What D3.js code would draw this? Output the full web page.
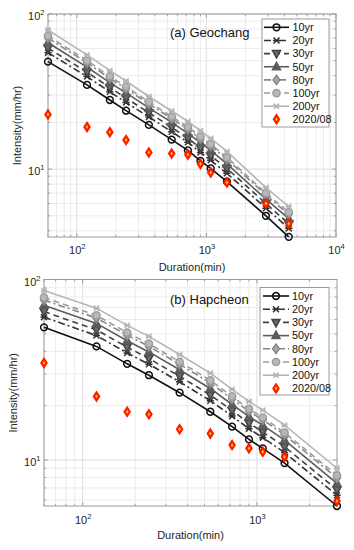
<!DOCTYPE html>
<html><head><meta charset="utf-8">
<script src="https://cdn.jsdelivr.net/npm/d3@7"></script>
<style>body{margin:0;background:#fff;} svg{display:block;font-family:"Liberation Sans",Arial,sans-serif;}</style>
</head><body><svg id="c" width="354" height="550"></svg>
<script>
// ---------------- DATA ----------------
const seriesNames = ["10yr","20yr","30yr","50yr","80yr","100yr","200yr"];
const obsName = "2020/08";

// (a) Geochang
const durationsA = [60,120,180,240,360,540,720,900,1080,1440,2880,4320];
const geochang10  = [49.3,34.9,27.9,23.8,19.3,15.5,13.2,11.3,10.1,8.3,5.0,3.66];
const geochang20  = [56.3,39.5,31.5,26.9,21.7,17.4,14.9,12.8,11.4,9.4,5.6,4.15];
const geochang30  = [60.3,42.2,33.6,28.7,23.1,18.6,15.8,13.7,12.2,10.1,6.0,4.44];
const geochang50  = [65.3,45.5,36.1,31.0,24.8,20.0,17.0,14.8,13.2,10.8,6.4,4.79];
const geochang80  = [69.9,48.5,38.5,33.0,26.3,21.2,18.1,15.7,14.1,11.6,6.8,5.11];
const geochang100 = [72.2,50.1,39.7,34.0,27.1,21.8,18.7,16.2,14.5,11.9,7.0,5.27];
const geochang200 = [78.9,54.5,43.1,37.0,29.4,23.7,20.3,17.7,15.8,13.0,7.6,5.74];
const geochangObs = [22.5,18.7,17.3,15.4,12.8,12.6,12.4,10.8,9.5,8.2,6.0,4.45];

// (b) Hapcheon
const durationsB = [60,120,180,240,360,540,720,900,1080,1440,2880];
const hapcheon10  = [54.3,42.6,34.1,29.5,23.6,18.5,15.3,13.0,11.6,9.62,5.56];
const hapcheon20  = [61.9,48.9,39.2,33.9,27.1,21.3,17.5,14.9,13.3,11.0,6.37];
const hapcheon30  = [66.4,52.6,42.2,36.5,29.1,22.9,18.8,16.0,14.3,11.85,6.84];
const hapcheon50  = [71.9,57.1,45.8,39.7,31.6,24.9,20.3,17.4,15.6,12.9,7.42];
const hapcheon80  = [76.9,61.2,49.1,42.6,33.9,26.7,21.8,18.6,16.7,13.8,7.95];
const hapcheon100 = [79.4,63.3,50.8,44.1,35.0,27.6,22.5,19.2,17.2,14.2,8.21];
const hapcheon200 = [86.8,69.4,55.7,48.4,38.4,30.3,24.6,21.1,18.9,15.6,9.0];
const hapcheonObs = [34.5,22.5,18.5,17.9,14.8,14.0,12.1,11.6,11.1,10.4,5.92];

const xTickValuesA = [100,1000,10000];
const xTickValuesB = [100,1000];
const yTickValues = [10,100];

// ---------------- STYLE ----------------
const styles = [
  {color:"#111111", dash:null,        marker:"circle",  fill:"none",    size:3.4},
  {color:"#333333", dash:"7,3,2,3",   marker:"star",    fill:"none",    size:3.0},
  {color:"#404040", dash:"6,4",       marker:"tridown", fill:"#6a6a6a", size:4.0},
  {color:"#5c5c5c", dash:null,        marker:"triup",   fill:"#5c5c5c", size:4.0},
  {color:"#878787", dash:"7,3,2,3",   marker:"diamond", fill:"#a8a8a8", size:3.6},
  {color:"#9c9c9c", dash:"6,4",       marker:"circle",  fill:"#b8b8b8", size:3.6},
  {color:"#b6b6b6", dash:null,        marker:"star",    fill:"none",    size:2.6}
];

function markerPath(type, s){
  switch(type){
    case "circle": return `M${s},0A${s},${s} 0 1,1 ${-s},0A${s},${s} 0 1,1 ${s},0Z`;
    case "star": return `M${-s},${-s}L${s},${s}M${-s},${s}L${s},${-s}M${-s*1.2},0L${s*1.2},0`;
    case "triup": return `M0,${-s*1.1}L${s},${s*0.75}L${-s},${s*0.75}Z`;
    case "tridown": return `M0,${s*1.1}L${s},${-s*0.75}L${-s},${-s*0.75}Z`;
    case "diamond": return `M0,${-s*1.3}L${s*0.95},0L0,${s*1.3}L${-s*0.95},0Z`;
  }
}
const obsPath = "M0,-4L2.6,0L0,4L-2.6,0Z";

const svg = d3.select("#c");

const charts = [
  {title:"(a) Geochang", x:durationsA, series:[geochang10,geochang20,geochang30,geochang50,geochang80,geochang100,geochang200], obs:geochangObs,
   xDomain:[60,10000], yDomain:[3.65,100], L:48, R:336, T:14, B:237, xTicks:xTickValuesA,
   titleX:170, titleY:32, xTickY:250, xLabelY:267, yLabelX:17,
   leg:{x:262, y:19, w:67, h:108, row0:27.3, step:13.15, lx0:264, lx1:289, tx:292.5}},
  {title:"(b) Hapcheon", x:durationsB, series:[hapcheon10,hapcheon20,hapcheon30,hapcheon50,hapcheon80,hapcheon100,hapcheon200], obs:hapcheonObs,
   xDomain:[60,2880], yDomain:[5.56,100], L:44, R:337, T:279.5, B:506, xTicks:xTickValuesB,
   titleX:170, titleY:299, xTickY:520, xLabelY:535, yLabelX:13,
   leg:{x:260, y:287.5, w:69, h:107.5, row0:296, step:13.2, lx0:263, lx1:289, tx:292}}
];

function minorVals(lo, hi){
  const out=[];
  for(let e=Math.floor(Math.log10(lo)); e<=Math.ceil(Math.log10(hi)); e++){
    for(let m=1;m<=9;m++){ const v=m*Math.pow(10,e); if(v>=lo*0.9999 && v<=hi*1.0001) out.push({v, major:m===1}); }
  }
  return out;
}

charts.forEach(c=>{
  const g = svg.append("g");
  const x = d3.scaleLog().domain(c.xDomain).range([c.L,c.R]);
  const y = d3.scaleLog().domain(c.yDomain).range([c.B,c.T]);
  const xm = minorVals(c.xDomain[0], c.xDomain[1]);
  const ym = minorVals(c.yDomain[0], c.yDomain[1]);

  // grid
  const grid = g.append("g");
  xm.forEach(d=>grid.append("line").attr("x1",x(d.v)).attr("x2",x(d.v)).attr("y1",c.T).attr("y2",c.B)
     .attr("stroke", d.major?"#dedede":"#ebebeb").attr("stroke-width",1));
  ym.forEach(d=>grid.append("line").attr("y1",y(d.v)).attr("y2",y(d.v)).attr("x1",c.L).attr("x2",c.R)
     .attr("stroke", d.major?"#dedede":"#ebebeb").attr("stroke-width",1));

  // inner ticks
  const tk = g.append("g").attr("stroke","#8f8f8f").attr("stroke-width",0.8);
  xm.forEach(d=>{ const l=d.major?4:2.2;
    tk.append("line").attr("x1",x(d.v)).attr("x2",x(d.v)).attr("y1",c.B).attr("y2",c.B-l);
    tk.append("line").attr("x1",x(d.v)).attr("x2",x(d.v)).attr("y1",c.T).attr("y2",c.T+l);});
  ym.forEach(d=>{ const l=d.major?4:2.2;
    tk.append("line").attr("y1",y(d.v)).attr("y2",y(d.v)).attr("x1",c.L).attr("x2",c.L+l);
    tk.append("line").attr("y1",y(d.v)).attr("y2",y(d.v)).attr("x1",c.R).attr("x2",c.R-l);});

  // axes (labels)
  const fmt = g=>{ g.select(".domain").remove(); g.selectAll(".tick line").remove();
    g.selectAll(".tick text").each(function(d){
      const t=d3.select(this); t.text(null).attr("fill","#262626").attr("font-size",11);
      t.append("tspan").text("10");
      t.append("tspan").attr("dy",-5).attr("font-size",7.5).text(Math.round(Math.log10(d)));
    });};
  g.append("g").attr("transform",`translate(0,${c.xTickY-4})`)
    .call(d3.axisBottom(x).tickValues(c.xTicks).tickSize(0).tickPadding(0)).call(fmt)
    .selectAll(".tick text").attr("dy","0.71em").attr("y",0);
  g.append("g").attr("transform",`translate(${c.L-3.5},0)`)
    .call(d3.axisLeft(y).tickValues(yTickValues).tickSize(0).tickPadding(0)).call(fmt)
    .selectAll(".tick text").attr("dy","0.5em");
  g.selectAll(".tick text").attr("font-family","Liberation Sans, Arial, sans-serif");

  // box
  g.append("rect").attr("x",c.L).attr("y",c.T).attr("width",c.R-c.L).attr("height",c.B-c.T)
    .attr("fill","none").attr("stroke","#9a9a9a").attr("stroke-width",1);

  // series
  const clipId = "clip"+c.T;
  g.append("clipPath").attr("id",clipId).append("rect").attr("x",c.L-6).attr("y",c.T-6).attr("width",c.R-c.L+12).attr("height",c.B-c.T+12);
  const plot = g.append("g").attr("clip-path",`url(#${clipId})`);
  const line = d3.line().x(d=>x(d[0])).y(d=>y(d[1]));
  c.series.forEach((vals,i)=>{
    const st = styles[i];
    const pts = c.x.map((d,j)=>[d,vals[j]]);
    plot.append("path").attr("d",line(pts)).attr("fill","none").attr("stroke",st.color)
      .attr("stroke-width",1.6).attr("stroke-dasharray",st.dash);
    plot.selectAll(null).data(pts).enter().append("path")
      .attr("transform",d=>`translate(${x(d[0])},${y(d[1])})`)
      .attr("d",markerPath(st.marker,st.size)).attr("fill",st.fill).attr("stroke",st.color).attr("stroke-width",1.5);
  });
  const opts = c.x.map((d,j)=>[d,c.obs[j]]);
  plot.selectAll(null).data(opts).enter().append("path")
    .attr("transform",d=>`translate(${x(d[0])},${y(d[1])})`)
    .attr("d",obsPath).attr("fill","#ffcc00").attr("stroke","#ff1a00").attr("stroke-width",2.2);

  // title
  g.append("text").attr("x",c.titleX).attr("y",c.titleY).attr("dy","0.35em").attr("font-size",13)
    .attr("fill","#111").text(c.title);

  // axis labels
  g.append("text").attr("x",(c.L+c.R)/2).attr("y",c.xLabelY).attr("dy","0.35em").attr("text-anchor","middle")
    .attr("font-size",11).attr("fill","#262626").text("Duration(min)");
  g.append("text").attr("transform",`translate(${c.yLabelX},${(c.T+c.B)/2}) rotate(-90)`).attr("dy","0.35em")
    .attr("text-anchor","middle").attr("font-size",11).attr("fill","#262626").text("Intensity(mm/hr)");

  // legend
  const lg = c.leg;
  const leg = g.append("g");
  leg.append("rect").attr("x",lg.x).attr("y",lg.y).attr("width",lg.w).attr("height",lg.h)
    .attr("fill","#fff").attr("stroke","#9a9a9a").attr("stroke-width",1);
  seriesNames.forEach((n,i)=>{
    const st=styles[i]; const yy=lg.row0+i*lg.step;
    leg.append("line").attr("x1",lg.lx0).attr("x2",lg.lx1).attr("y1",yy).attr("y2",yy)
      .attr("stroke",st.color).attr("stroke-width",1.6).attr("stroke-dasharray",st.dash);
    leg.append("path").attr("transform",`translate(${(lg.lx0+lg.lx1)/2},${yy})`)
      .attr("d",markerPath(st.marker,st.size)).attr("fill",st.fill).attr("stroke",st.color).attr("stroke-width",1.5);
    leg.append("text").attr("x",lg.tx).attr("y",yy).attr("dy","0.35em").attr("font-size",10.8).attr("fill","#111").text(n);
  });
  const yo = lg.row0+7*lg.step;
  leg.append("path").attr("transform",`translate(${(lg.lx0+lg.lx1)/2},${yo})`).attr("d",obsPath)
    .attr("fill","#ffcc00").attr("stroke","#ff1a00").attr("stroke-width",2.2);
  leg.append("text").attr("x",lg.tx).attr("y",yo).attr("dy","0.35em").attr("font-size",10.8).attr("fill","#111").text(obsName);
});
</script></body></html>
